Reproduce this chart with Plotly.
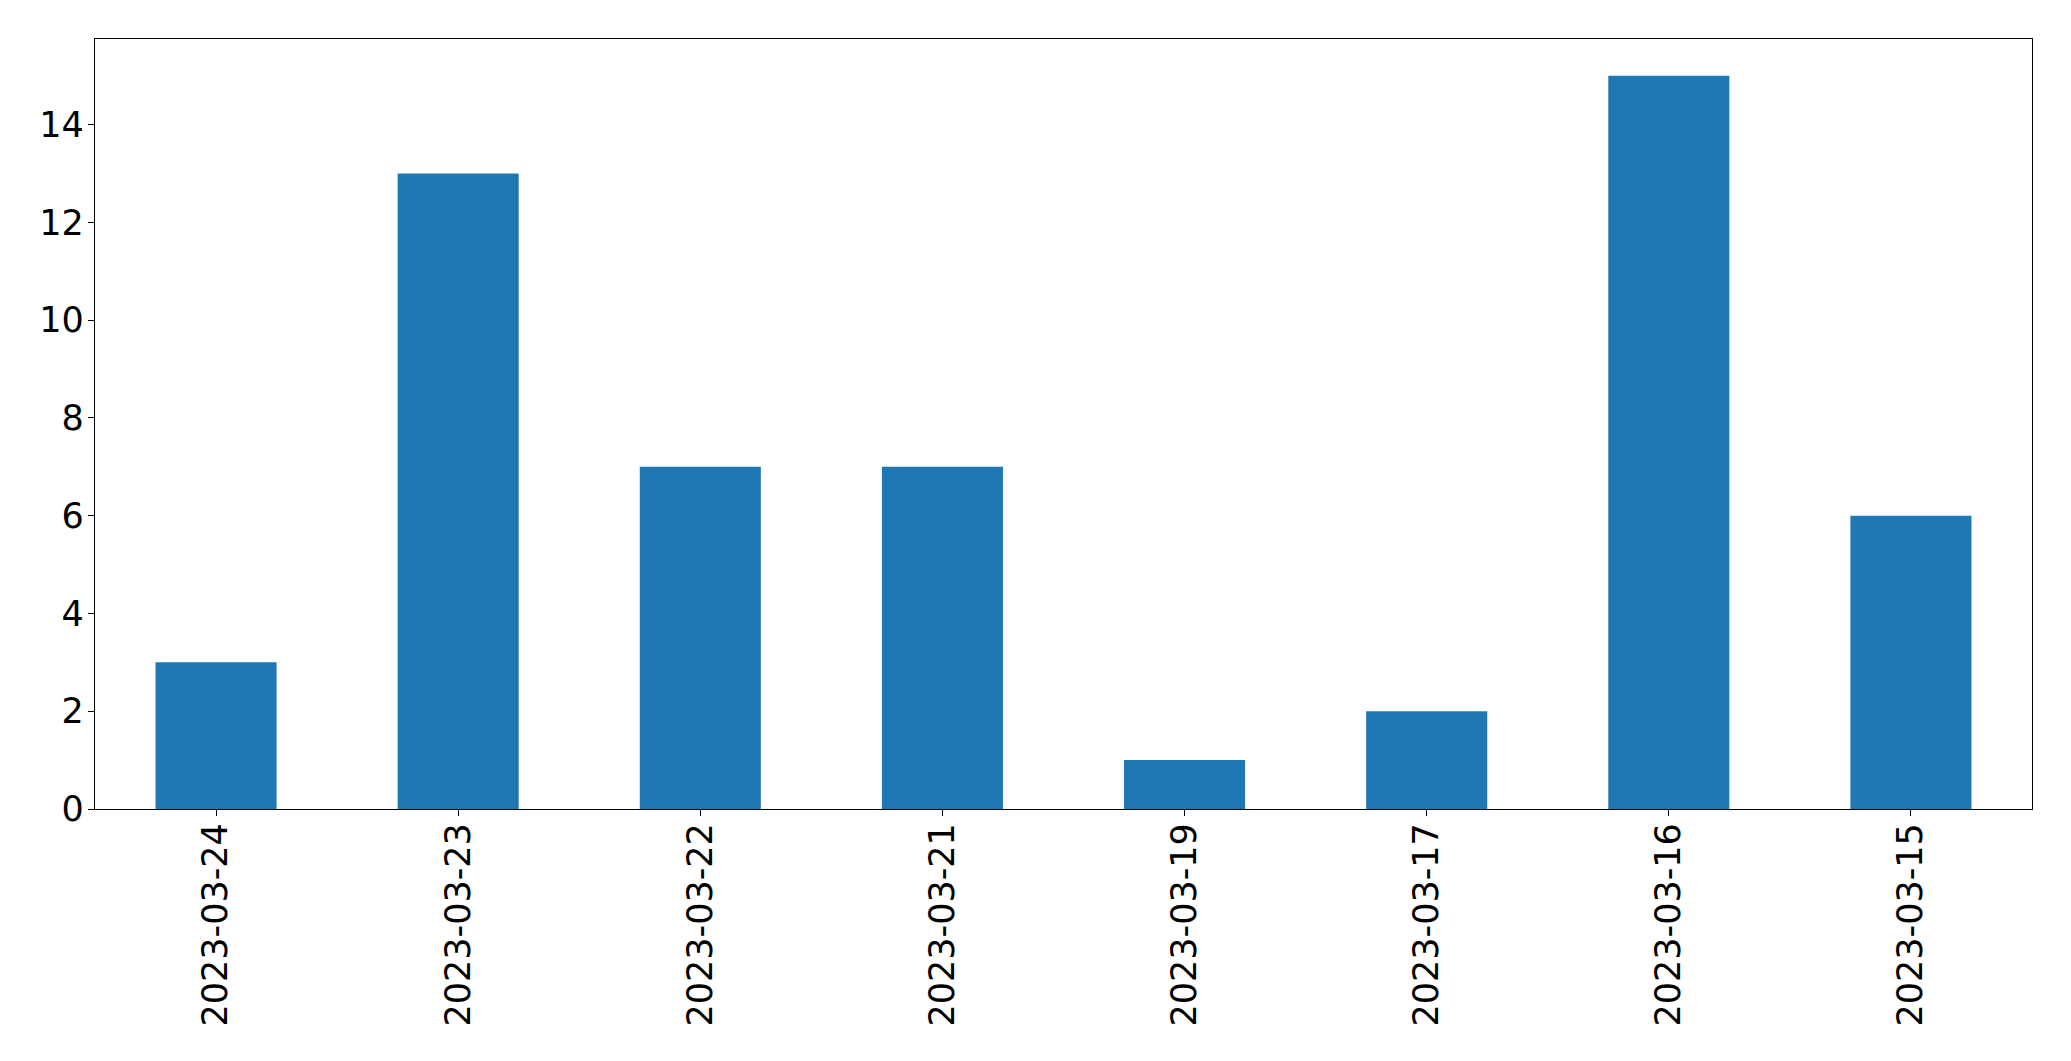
import plotly.graph_objects as go

dates = ["2023-03-24", "2023-03-23", "2023-03-22", "2023-03-21",
         "2023-03-19", "2023-03-17", "2023-03-16", "2023-03-15"]
counts = [3, 13, 7, 7, 1, 2, 15, 6]
y_ticks = [0, 2, 4, 6, 8, 10, 12, 14]

fig = go.Figure(go.Bar(x=dates, y=counts, width=0.5, marker=dict(color="#1f77b4", line=dict(width=0))))

font = dict(family="DejaVu Sans", size=35, color="black")
fig.update_layout(
    width=2055, height=1045,
    margin=dict(l=87, r=31, t=31, b=244, autoexpand=False),
    plot_bgcolor="white", paper_bgcolor="white",
    showlegend=False,
    font=font,
)
fig.update_xaxes(
    type="category", range=[-0.5, 7.5], tickangle=-90,
    showline=True, mirror=True, linecolor="black", linewidth=1.3,
    ticks="outside", ticklen=6, tickwidth=1.3, tickcolor="black",
    showgrid=False, zeroline=False, tickfont=font, automargin=False,
    ticklabelstandoff=-7,
)
fig.update_yaxes(
    range=[0, 15.75], tickvals=y_ticks,
    showline=True, mirror=True, linecolor="black", linewidth=1.3,
    ticks="outside", ticklen=6, tickwidth=1.3, tickcolor="black",
    showgrid=False, zeroline=False, tickfont=font, automargin=False,
    ticklabelstandoff=-3,
)
fig.write_html("out.html")
